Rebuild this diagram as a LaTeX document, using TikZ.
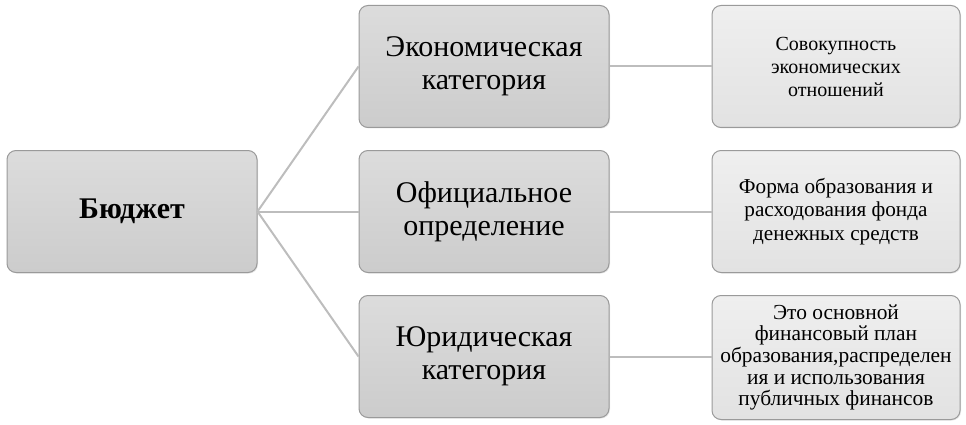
\documentclass[tikz,border=0pt]{standalone}
\usepackage{fontspec}
\setmainfont{Liberation Serif}
\usepackage{xcolor}
\usetikzlibrary{positioning, shadows}

\definecolor{boxtop}{HTML}{DCDCDC}
\definecolor{boxbot}{HTML}{CCCCCC}
\definecolor{notetop}{HTML}{EFEFEF}
\definecolor{notebot}{HTML}{E2E2E2}
\definecolor{edge}{HTML}{9A9A9A}
\definecolor{wire}{HTML}{BDBDBD}

\begin{document}
\begin{tikzpicture}[
  x=1pt, y=-1pt,
  node distance=22pt and 101pt,
  block/.style={rectangle, rounded corners=9pt, draw=edge, line width=1pt,
    top color=boxtop, bottom color=boxbot, minimum width=250pt, minimum height=122pt,
    align=center, inner sep=2pt,
    drop shadow={opacity=0.2, shadow xshift=1pt, shadow yshift=-1pt}},
  note/.style={block, top color=notetop, bottom color=notebot, minimum width=248pt,
    font=\fontsize{21.2}{23.5}\selectfont},
  cat/.style={block, font=\fontsize{30}{33}\selectfont},
  link/.style={draw=wire, line width=2pt}
]
\useasboundingbox (0,0) rectangle (966,425);

% Root
\node[block, font=\bfseries\fontsize{30}{33}\selectfont] (budget) at (132,211.5) {Бюджет};

% Categories
\node[cat, right=of budget] (official) {Официальное\\определение};
\node[cat, above=of official] (econ) {Экономическая\\категория};
\node[cat, below=of official] (legal) {Юридическая\\категория};

% Descriptions
\node[note, right=102pt of econ, font=\fontsize{20}{23}\selectfont] (econnote) {Совокупность\\экономических\\отношений};
\node[note, right=102pt of official] (officialnote) {Форма образования и\\расходования фонда\\денежных средств};
\node[note, right=102pt of legal, minimum height=124pt, yshift=-1pt,
  font=\fontsize{21.4}{21.7}\selectfont] (legalnote)
  {Это основной\\финансовый план\\образования,распределен\\ия и использования\\публичных финансов};

% Connectors
\draw[link] (budget.east) -- (econ.west);
\draw[link] (budget.east) -- (official.west);
\draw[link] (budget.east) -- (legal.west);
\draw[link] (econ) -- (econnote);
\draw[link] (official) -- (officialnote);
\draw[link] (legal.east) -- (legal.east -| legalnote.west);

\end{tikzpicture}
\end{document}
